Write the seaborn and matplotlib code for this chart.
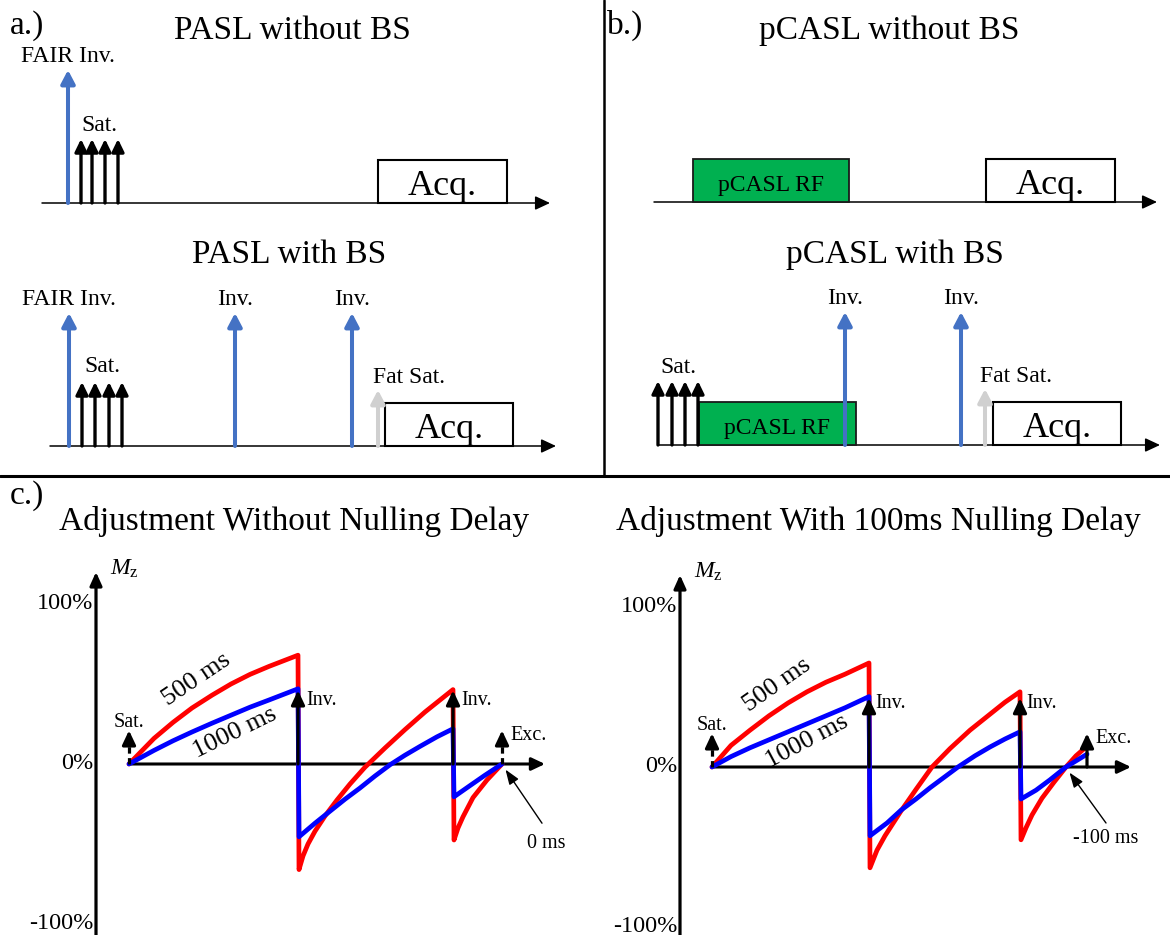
import numpy as np
import pandas as pd
import matplotlib
matplotlib.use("Agg")
import matplotlib.pyplot as plt
from matplotlib.patches import Rectangle
from matplotlib.lines import Line2D
import seaborn as sns

sns.set_theme(style="white")
plt.rcParams["font.family"] = ["Liberation Serif", "DejaVu Serif"]
plt.rcParams["mathtext.fontset"] = "custom"
plt.rcParams["mathtext.rm"] = "Liberation Serif"
plt.rcParams["mathtext.it"] = "Liberation Serif:italic"
plt.rcParams["text.color"] = "black"

# ------------------------------------------------------------------
# DATA
# ------------------------------------------------------------------
# a/b: pulse timings (a.u. from start of time axis) and pulse heights (a.u.)
pasl_nobs_inv_t = [26]
pasl_nobs_inv_labels = ["FAIR Inv."]
pasl_nobs_sat_t = [39, 50, 63, 76]
pasl_nobs_acq = [336, 465]

pasl_bs_inv_t = [19, 185, 302]
pasl_bs_inv_labels = ["FAIR Inv.", "Inv.", "Inv."]
pasl_bs_sat_t = [32, 45, 59, 72]
pasl_bs_fatsat_t = [328]
pasl_bs_acq = [335, 463]

pcasl_nobs_rf = [39, 195]
pcasl_nobs_acq = [332, 461]

pcasl_bs_sat_t = [0, 14, 27, 40]
pcasl_bs_rf = [41, 198]
pcasl_bs_inv_t = [187, 303]
pcasl_bs_inv_labels = ["Inv.", "Inv."]
pcasl_bs_fatsat_t = [327]
pcasl_bs_acq = [335, 463]

inv_height = 133
sat_height = 64
fatsat_height = 56
box_height = 43

# c: Mz (% of M0) versus time (ms, schematic) for T1 = 500 ms and 1000 ms
c1_t_500 = [0, 250, 440, 630, 830, 1020, 1210, 1400, 1690,
            1700, 1740, 1790, 1860, 1960, 2080, 2210, 2360, 2560, 2760, 2960, 3110, 3240,
            3250, 3290, 3340, 3440, 3580, 3730]
c1_mz_500 = [0, 16, 26, 35, 43, 50, 56, 61, 68,
             -66, -57.5, -50, -42, -32.5, -22.5, -12.5, -2, 10, 21.5, 32.5, 40, 46.5,
             -47.5, -40, -33, -21, -10, 0]
c1_t_1000 = [0, 250, 440, 630, 830, 1020, 1210, 1400, 1690,
             1700, 1860, 2010, 2160, 2310, 2460, 2610, 2760, 2910, 3080, 3240,
             3250, 3410, 3560, 3730]
c1_mz_1000 = [0, 8.5, 14.5, 20, 25.5, 30.5, 35.5, 40, 47,
              -45.5, -37, -29.5, -22, -15, -7.5, -0.5, 5.5, 11, 17, 22,
              -20.5, -13.5, -7, 0]

c2_t_500 = [0, 190, 380, 570, 760, 950, 1140, 1330, 1570,
            1580, 1650, 1730, 1890, 2040, 2200, 2380, 2580, 2780, 2930, 3080,
            3090, 3140, 3200, 3300, 3420, 3540, 3640, 3750]
c2_mz_500 = [0, 13.5, 23, 32, 40, 47, 53, 58, 65,
             -63, -52, -43, -27.5, -14, 0, 11.5, 23, 33, 40.5, 47,
             -45.5, -38, -30, -19.5, -9.5, 0, 7, 13]
c2_t_1000 = [0, 190, 380, 570, 760, 950, 1140, 1330, 1570,
             1580, 1750, 1890, 2040, 2180, 2320, 2460, 2630, 2780, 2930, 3080,
             3090, 3240, 3380, 3540, 3750]
c2_mz_1000 = [0, 6.5, 12, 17, 22, 27, 32, 37, 44,
              -43, -35, -27, -20, -13, -6.5, 0, 7, 12.5, 17.5, 22,
              -20, -14.5, -8, 0, 8]

event_labels = ["Sat.", "Inv.", "Inv.", "Exc."]
c1_events_t = [0, 1690, 3240, 3730]
c2_events_t = [0, 1570, 3080, 3750]
c1_null_t = 3730
c2_null_t = 3540
pct_ticks = [100, 0, -100]
pct_labels = ["100%", "0%", "-100%"]
t1_labels = ["500 ms", "1000 ms"]

# ------------------------------------------------------------------
# FIGURE
# ------------------------------------------------------------------
W, H = 1170, 935
fig = plt.figure(figsize=(W / 100, H / 100), dpi=100)
fig.patch.set_facecolor("white")

BLUE = "#4472C4"
GREEN = "#00B050"
GREY = "#D0D0D0"


def px_axes(x0, y0, x1, y1):
    ax = fig.add_axes([x0 / W, 1 - y1 / H, (x1 - x0) / W, (y1 - y0) / H])
    ax.set_axis_off()
    ax.patch.set_visible(False)
    return ax


def ftext(x, y, s, **kw):
    fig.text(x / W, 1 - y / H, s, color="black", **kw)


def arrow(ax, x0, y0, x1, y1, color="black", lw=2.0, hl=0.75, hw=0.33, z=4, ls="-"):
    ax.annotate("", xy=(x1, y1), xytext=(x0, y0),
                arrowprops=dict(arrowstyle=f"-|>,head_length={hl},head_width={hw}",
                                color=color, lw=lw, linestyle=ls, shrinkA=0, shrinkB=0,
                                mutation_scale=10, joinstyle="round"),
                annotation_clip=False, zorder=z)


def diagram(ox, oy, length):
    ax = px_axes(ox - 60, oy - 230, ox + length + 20, oy + 30)
    ax.set_xlim(-60, length + 20)
    ax.set_ylim(-30, 230)
    arrow(ax, 0, 0, length, 0, lw=1.1, hl=0.9, hw=0.42, z=1)
    return ax


def sats(ax, ts, label_dy=8):
    for t in ts:
        arrow(ax, t, 0, t, sat_height, lw=2.4, hl=0.74, hw=0.36, z=4)
    ax.text(np.mean(ts), sat_height + label_dy, "Sat.", ha="center", va="baseline", fontsize=17)


def invs(ax, ts, labels):
    for t, lab in zip(ts, labels):
        arrow(ax, t, 0, t, inv_height, color=BLUE, lw=2.9, hl=0.8, hw=0.42, z=5)
        ax.text(t, inv_height + 8, lab, ha="center", va="baseline", fontsize=17)


def fatsat(ax, ts):
    for t in ts:
        arrow(ax, t, 0, t, fatsat_height, color=GREY, lw=2.9, hl=0.8, hw=0.42, z=4)
        ax.text(t - 5, fatsat_height + 7, "Fat Sat.", ha="left", va="baseline", fontsize=17)


def acq(ax, span):
    ax.add_patch(Rectangle((span[0], 0), span[1] - span[0], box_height,
                           fc="white", ec="black", lw=1.5, zorder=2))
    ax.text(np.mean(span), 8, "Acq.", ha="center", va="baseline", fontsize=26, zorder=3)


def rf(ax, span):
    ax.add_patch(Rectangle((span[0], 0), span[1] - span[0], box_height,
                           fc=GREEN, ec="#1a1a1a", lw=1.3, zorder=2))
    ax.text(np.mean(span), 11, "pCASL RF", ha="center", va="baseline", fontsize=17, zorder=3)


# ---- a.) PASL ----
ax = diagram(42, 203, 508)
invs(ax, pasl_nobs_inv_t, pasl_nobs_inv_labels)
sats(ax, pasl_nobs_sat_t)
acq(ax, pasl_nobs_acq)

ax = diagram(50, 446, 506)
invs(ax, pasl_bs_inv_t, pasl_bs_inv_labels)
sats(ax, pasl_bs_sat_t, label_dy=10)
fatsat(ax, pasl_bs_fatsat_t)
acq(ax, pasl_bs_acq)

# ---- b.) pCASL ----
ax = diagram(654, 202, 503)
rf(ax, pcasl_nobs_rf)
acq(ax, pcasl_nobs_acq)

ax = diagram(658, 445, 502)
sats(ax, pcasl_bs_sat_t)
rf(ax, pcasl_bs_rf)
invs(ax, pcasl_bs_inv_t, pcasl_bs_inv_labels)
fatsat(ax, pcasl_bs_fatsat_t)
acq(ax, pcasl_bs_acq)

# titles / panel letters
ftext(10, 34, "a.)", fontsize=24, ha="left", va="baseline")
ftext(607, 34, "b.)", fontsize=24, ha="left", va="baseline")
ftext(10, 504, "c.)", fontsize=24, ha="left", va="baseline")
ftext(292, 39, "PASL without BS", fontsize=24, ha="center", va="baseline")
ftext(289, 263, "PASL with BS", fontsize=24, ha="center", va="baseline")
ftext(889, 39, "pCASL without BS", fontsize=24, ha="center", va="baseline")
ftext(895, 263, "pCASL with BS", fontsize=24, ha="center", va="baseline")
ftext(294, 530, "Adjustment Without Nulling Delay", fontsize=24, ha="center", va="baseline")
ftext(878, 530, "Adjustment With 100ms Nulling Delay", fontsize=24, ha="center", va="baseline")

# dividers
fig.add_artist(Line2D([604 / W, 604 / W], [1, 1 - 476 / H], color="black", lw=1.8))
fig.add_artist(Line2D([0, 1], [1 - 476 / H, 1 - 476 / H], color="black", lw=2.2))

# ---- c.) Mz curves ----
PX_PER_MS = 0.1
PX_PER_PCT = 1.6
palette = {"500 ms": "#FF0000", "1000 ms": "#0000FF"}


def c_axes(xl, xr, sat_px, zero_px):
    ax = px_axes(xl, 540, xr, 935)
    lim = ((xl - sat_px) / PX_PER_MS, (xr - sat_px) / PX_PER_MS,
           (zero_px - 935) / PX_PER_PCT, (zero_px - 540) / PX_PER_PCT)
    return ax, lim


def dashed_arrow(ax, t, tip):
    head = 8
    ax.plot([t, t], [0, tip - head], color="black", lw=2.3, ls=(0, (2.0, 1.4)),
            zorder=5, dash_capstyle="butt")
    arrow(ax, t, tip - head - 1.5, t, tip, lw=2.3, hl=0.85, hw=0.4, z=5)


def draw_c(ax, lim, t500, mz500, t1000, mz1000, ev_t, yaxis_t, xaxis_end, inv_tip,
           inv_lbl_dt, null_t, delay_text, delay_pos, delay_start, lbl500, lbl1000,
           exc_dashed):
    ax.set_xlim(lim[0], lim[1])
    ax.set_ylim(lim[2], lim[3])
    # axes
    arrow(ax, yaxis_t, lim[2], yaxis_t, 120, lw=2.3, hl=0.8, hw=0.36, z=2)
    arrow(ax, 0, 0, xaxis_end, 0, lw=2.2, hl=0.8, hw=0.38, z=2)
    ax.text(yaxis_t + 140, 118, r"$M_{\mathrm{z}}$", fontsize=17, ha="left", va="baseline")
    for v, s in zip(pct_ticks, pct_labels):
        ax.text(yaxis_t - 30, v - 3, s, fontsize=17.5, ha="right", va="baseline")
    # curves
    df = pd.concat([
        pd.DataFrame({"t": t500, "Mz": mz500, "T1": "500 ms"}),
        pd.DataFrame({"t": t1000, "Mz": mz1000, "T1": "1000 ms"}),
    ], ignore_index=True)
    sns.lineplot(data=df, x="t", y="Mz", hue="T1", hue_order=t1_labels, palette=palette,
                 sort=False, estimator=None, legend=False, linewidth=3.4, ax=ax, zorder=3)
    ax.set_axis_off()
    ax.set_xlim(lim[0], lim[1])
    ax.set_ylim(lim[2], lim[3])
    # event arrows
    sat_t, inv1_t, inv2_t, exc_t = ev_t
    dashed_arrow(ax, sat_t, 21)
    ax.text(sat_t, 23, "Sat.", fontsize=14.5, ha="center", va="baseline")
    if exc_dashed:
        dashed_arrow(ax, exc_t, 21)
    else:
        arrow(ax, exc_t, 0, exc_t, 21, lw=2.3, hl=0.85, hw=0.4, z=5)
    ax.text(exc_t + 80, 15, "Exc.", fontsize=14.5, ha="left", va="baseline")
    for t in (inv1_t, inv2_t):
        arrow(ax, t, 0, t, inv_tip, lw=2.3, hl=0.85, hw=0.4, z=5)
        ax.text(t + inv_lbl_dt, 37, "Inv.", fontsize=14.5, ha="left", va="baseline")
    # delay annotation
    ax.annotate("", xy=(null_t + 35, -3.5), xytext=delay_start,
                arrowprops=dict(arrowstyle="-|>,head_length=0.9,head_width=0.33", color="black",
                                lw=1.0, shrinkA=0, shrinkB=0, mutation_scale=10),
                annotation_clip=False, zorder=6)
    ax.text(delay_pos[0], delay_pos[1], delay_text, fontsize=14.5, ha="center", va="baseline")
    # curve labels
    for s, (x, y, r) in zip(t1_labels, (lbl500, lbl1000)):
        ax.text(x, y, s, fontsize=19, ha="center", va="center", rotation=r,
                rotation_mode="anchor", zorder=6)


ax, lim = c_axes(0, 590, 129, 764)
draw_c(ax, lim, c1_t_500, c1_mz_500, c1_t_1000, c1_mz_1000, c1_events_t,
       yaxis_t=-330, xaxis_end=4160, inv_tip=46, inv_lbl_dt=80, null_t=c1_null_t,
       delay_text="0 ms", delay_pos=(4170, -52.5), delay_start=(4130, -37),
       lbl500=(680, 53, 34), lbl1000=(1060, 19.5, 26), exc_dashed=True)

ax, lim = c_axes(590, 1170, 712, 767)
draw_c(ax, lim, c2_t_500, c2_mz_500, c2_t_1000, c2_mz_1000, c2_events_t,
       yaxis_t=-320, xaxis_end=4190, inv_tip=43, inv_lbl_dt=60, null_t=c2_null_t,
       delay_text="-100 ms", delay_pos=(3940, -47.5), delay_start=(3940, -35),
       lbl500=(650, 51, 35), lbl1000=(950, 16, 28), exc_dashed=False)

fig.savefig("out.png", dpi=100, facecolor="white")
